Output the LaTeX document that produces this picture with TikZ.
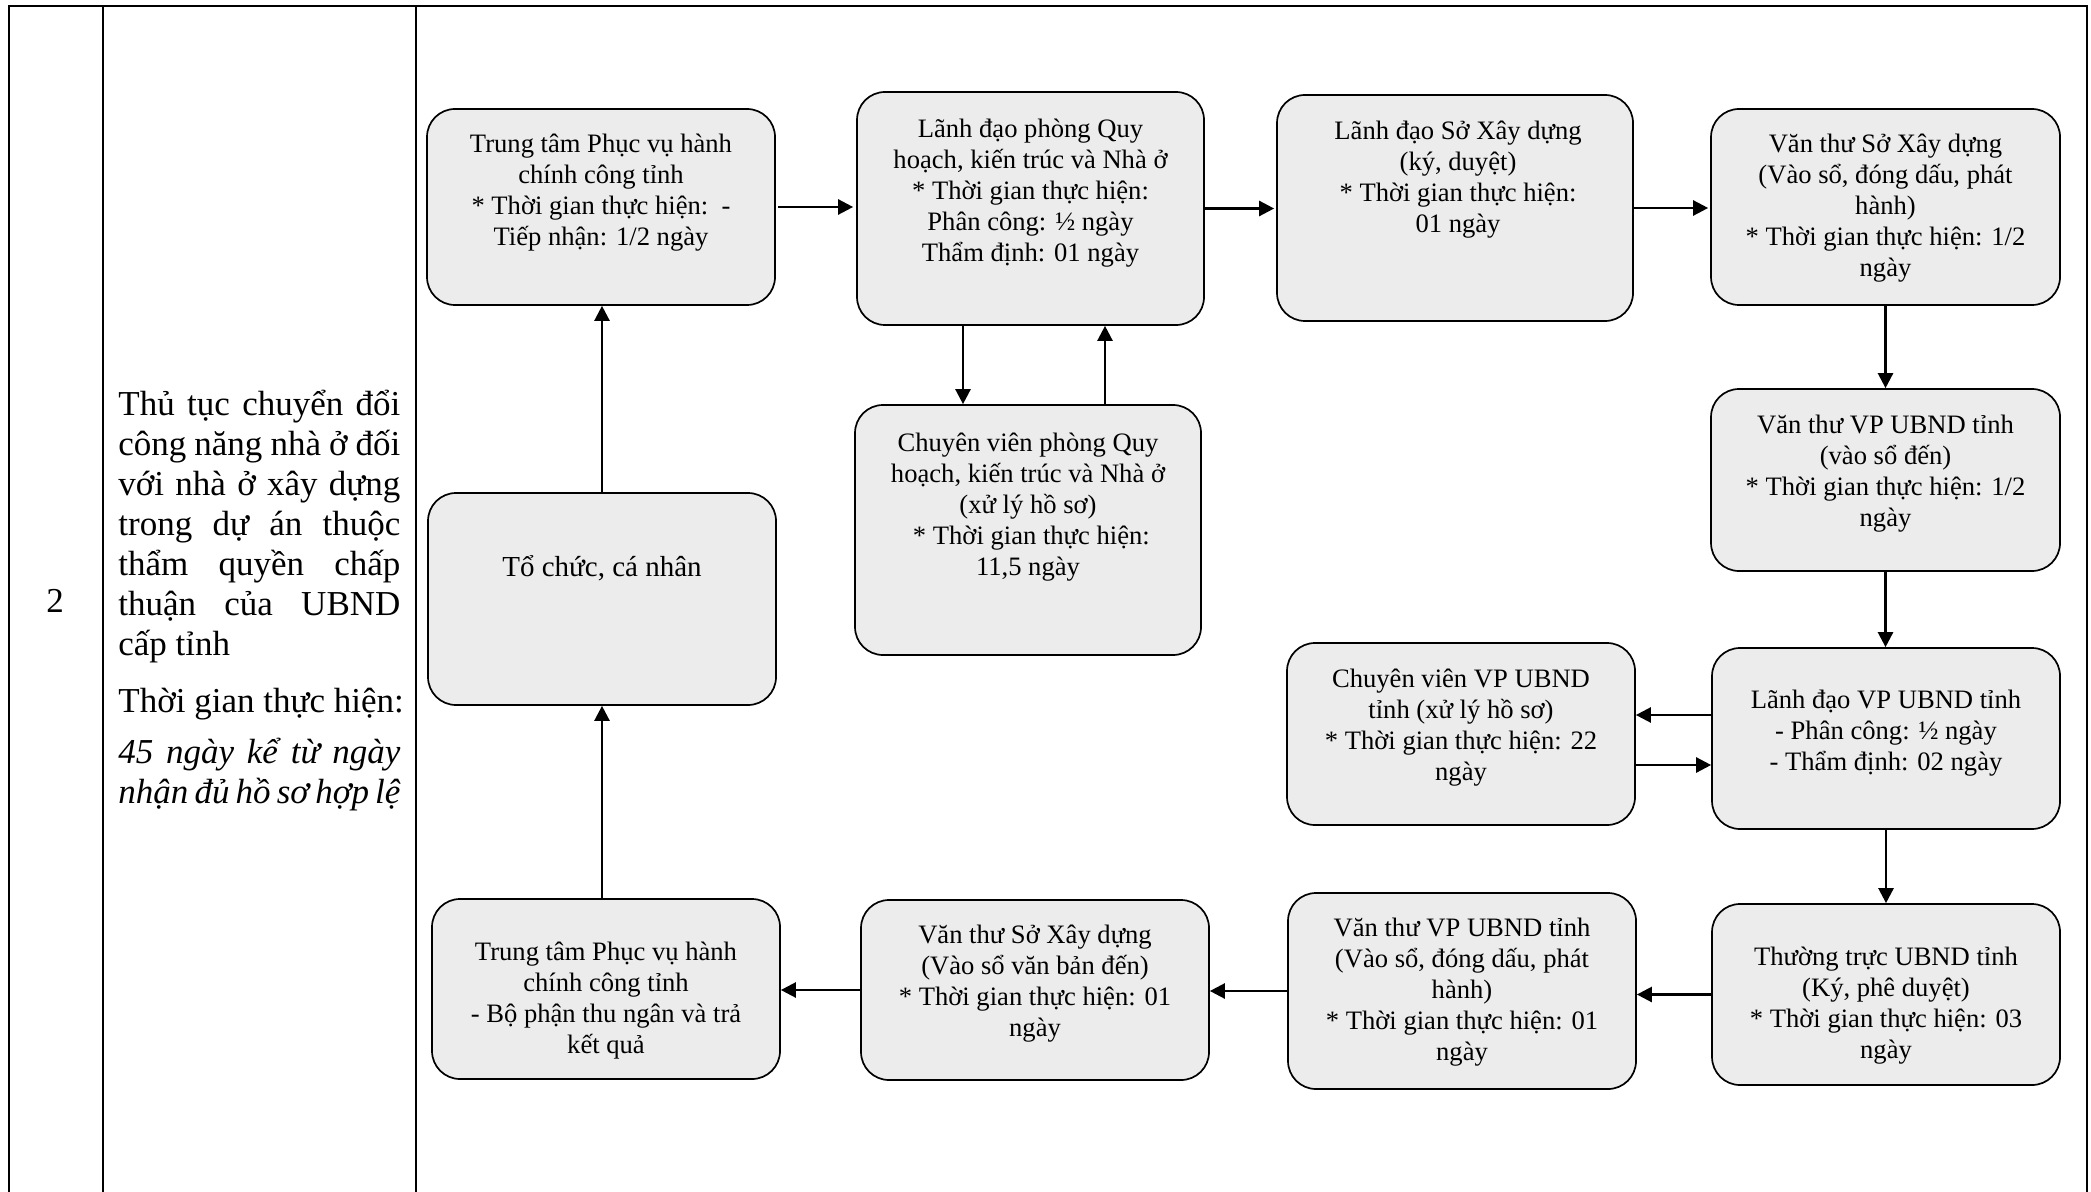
\documentclass[tikz,border=0pt]{standalone}
\usepackage{fontspec}
\setmainfont{Liberation Serif}
\usetikzlibrary{arrows.meta}
\definecolor{boxgray}{RGB}{236,236,236}
\newcommand{\firstst}{\rule{0pt}{13pt}}
\newcommand{\jline}[1]{\makebox[141pt][s]{#1}}
\tikzset{
  tline/.style={line width=1pt},
  box/.style={draw, line width=0.85pt, fill=boxgray, rounded corners=14pt, minimum width=174pt},
  txt/.style={anchor=north, inner sep=0pt, align=center, font=\fontsize{13.3}{15.5}\selectfont},
  arr/.style={line width=1.25pt, -{Triangle[length=7.5pt,width=7.5pt]}},
  lcol/.style={anchor=base west, inner sep=0pt, font=\fontsize{17.5}{20}\selectfont},
}
\begin{document}
\begin{tikzpicture}[x=0.5pt,y=-0.5pt]
\useasboundingbox (0,0) rectangle (2091,1192);
% table frame
\draw[tline] (9,1192) -- (9,6) -- (2087,6) -- (2087,1192);
\draw[tline] (103,6) -- (103,1192);
\draw[tline] (416,6) -- (416,1192);
% first column
\node[anchor=base, inner sep=0pt, font=\fontsize{17.5}{20}\selectfont] (num) at (55,612) {2};
% second column
\node[lcol] (l1) at (118,415) {\jline{Thủ tục chuyển đổi}};
\node[lcol] (l2) at (118,455) {\jline{công năng nhà ở đối}};
\node[lcol] (l3) at (118,495) {\jline{với nhà ở xây dựng}};
\node[lcol] (l4) at (118,535) {\jline{trong dự án thuộc}};
\node[lcol] (l5) at (118,575) {\jline{thẩm quyền chấp}};
\node[lcol] (l6) at (118,615) {\jline{thuận của UBND}};
\node[lcol] (l7) at (118,655) {cấp tỉnh};
\node[lcol] (l8) at (118,712) {Thời gian thực hiện:};
\node[lcol] (l9) at (118,763) {\itshape\jline{45 ngày kể từ ngày}};
\node[lcol] (l10) at (118,803) {\itshape\jline{nhận đủ hồ sơ hợp lệ}};
% boxes
\node[box, minimum height=98pt] (b1) at (601,207) {};
\node[box, minimum width=173.5pt, minimum height=116.5pt] (b2) at (1030.5,208.5) {};
\node[box, minimum width=173pt, minimum height=125pt] (b3) at (1028,530) {};
\node[box, minimum height=106pt] (b4) at (602,599) {};
\node[box, minimum width=178pt, minimum height=113pt] (b5) at (1455,208) {};
\node[box, minimum width=174.5pt, minimum height=98pt] (b6) at (1885.5,207) {};
\node[box, minimum width=174.5pt, minimum height=91pt] (b7) at (1885.5,480) {};
\node[box, minimum height=90.5pt] (b8) at (1886,738.5) {};
\node[box, minimum height=91pt] (b9) at (1461,734) {};
\node[box, minimum height=90.5pt] (b10) at (1886,994.5) {};
\node[box, minimum height=98pt] (b11) at (1462,991) {};
\node[box, minimum height=90pt] (b12) at (1035,990) {};
\node[box, minimum height=90pt] (b13) at (606,989) {};
% texts
\node[txt] (t1) at (601,126) {\firstst Trung tâm Phục vụ hành\\chính công tỉnh\\* Thời gian thực hiện:\ \ -\\Tiếp nhận: 1/2 ngày};
\node[txt] (t2) at (1030.5,111) {\firstst Lãnh đạo phòng Quy\\hoạch, kiến trúc và Nhà ở\\* Thời gian thực hiện:\\Phân công: ½ ngày\\Thẩm định: 01 ngày};
\node[txt] (t3) at (1028,425) {\firstst Chuyên viên phòng Quy\\hoạch, kiến trúc và Nhà ở\\(xử lý hồ sơ)\\\ * Thời gian thực hiện:\\11,5 ngày};
\node[txt, font=\fontsize{14.5}{17}\selectfont] (t4) at (602,550) {\firstst Tổ chức, cá nhân};
\node[txt] (t5) at (1458,113) {\firstst Lãnh đạo Sở Xây dựng\\(ký, duyệt)\\* Thời gian thực hiện:\\01 ngày};
\node[txt] (t6) at (1885.5,126) {\firstst Văn thư Sở Xây dựng\\(Vào sổ, đóng dấu, phát\\hành)\\* Thời gian thực hiện: 1/2\\ngày};
\node[txt] (t7) at (1885.5,407) {\firstst Văn thư VP UBND tỉnh\\(vào sổ đến)\\* Thời gian thực hiện: 1/2\\ngày};
\node[txt] (t8) at (1886,682) {\firstst Lãnh đạo VP UBND tỉnh\\- Phân công: ½ ngày\\- Thẩm định: 02 ngày};
\node[txt] (t9) at (1461,661) {\firstst Chuyên viên VP UBND\\tỉnh (xử lý hồ sơ)\\* Thời gian thực hiện: 22\\ngày};
\node[txt] (t10) at (1886,939) {\firstst Thường trực UBND tỉnh\\(Ký, phê duyệt)\\* Thời gian thực hiện: 03\\ngày};
\node[txt] (t11) at (1462,910) {\firstst Văn thư VP UBND tỉnh\\(Vào sổ, đóng dấu, phát\\hành)\\* Thời gian thực hiện: 01\\ngày};
\node[txt] (t12) at (1035,917) {\firstst Văn thư Sở Xây dựng\\(Vào sổ văn bản đến)\\* Thời gian thực hiện: 01\\ngày};
\node[txt] (t13) at (606,934) {\firstst Trung tâm Phục vụ hành\\chính công tỉnh\\- Bộ phận thu ngân và trả\\kết quả};
% connectors
\draw[arr] (b4.north) -- (b4.north |- b1.south);
\draw[arr] (b4.south |- b13.north) -- (b4.south);
\draw[arr] ([xshift=1pt]b1.east) -- ([xshift=-1.5pt]b1.east -| b2.west);
\draw[arr] (b2.east) -- ([xshift=-1pt]b2.east -| b5.west);
\draw[arr] (b5.east) -- ([xshift=-1pt]b5.east -| b6.west);
\draw[arr] ([xshift=-33.75pt]b2.south) -- ([xshift=-33.75pt]b2.south |- b3.north);
\draw[arr] ([xshift=37.25pt]b2.south |- b3.north) -- ([xshift=37.25pt]b2.south);
\draw[arr] (b6.south) -- (b6.south |- b7.north);
\draw[arr] (b7.south) -- (b7.south |- b8.north);
\draw[arr] ([yshift=11.75pt]b8.west) -- ([yshift=11.75pt]b8.west -| b9.east);
\draw[arr] ([yshift=-13.25pt]b8.west -| b9.east) -- ([yshift=-13.25pt]b8.west);
\draw[arr] (b8.south) -- (b8.south |- b10.north);
\draw[arr] (b10.west) -- (b10.west -| b11.east);
\draw[arr] (b11.west) -- (b11.west -| b12.east);
\draw[arr] (b12.west) -- (b12.west -| b13.east);
\end{tikzpicture}
\end{document}
